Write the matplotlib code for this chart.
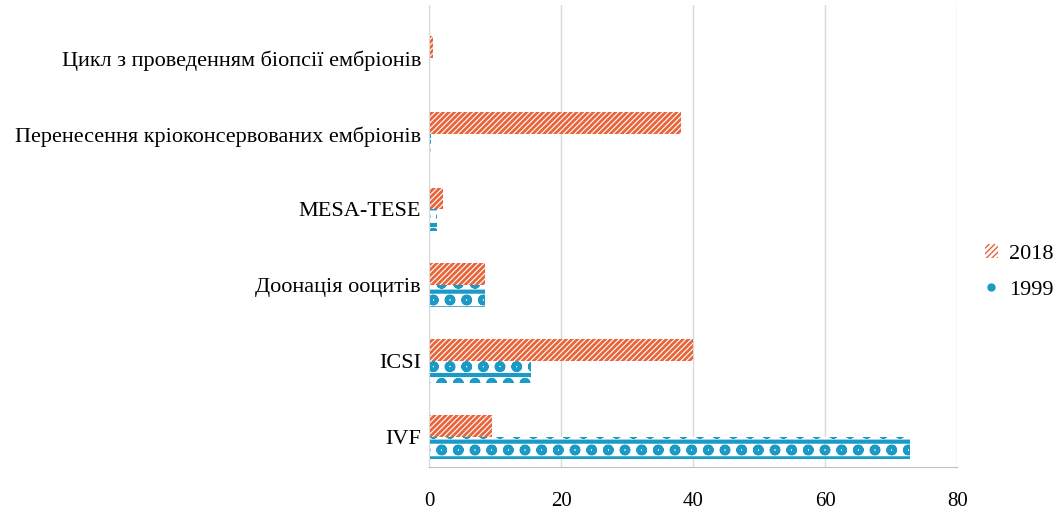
import matplotlib as mpl
import matplotlib.pyplot as plt
import matplotlib.patches as mpatches
from matplotlib.lines import Line2D
import numpy as np

plt.rcParams["font.family"] = ["Liberation Serif", "DejaVu Serif"]

# Categories, bottom to top as drawn
categories = [
    "IVF",
    "ICSI",
    "Доонація ооцитів",
    "MESA-TESE",
    "Перенесення кріоконсервованих ембріонів",
    "Цикл з проведенням біопсії ембріонів",
]
values_2018 = [9.5, 40.0, 8.5, 2.1, 38.2, 0.6]
values_1999 = [72.8, 15.4, 8.5, 1.2, 0.3, 0.0]

ORANGE = "#E8643A"
BLUE = "#1B9AC6"
HATCH_2018 = "//////"
HATCH_1999 = "-o"

fig = plt.figure(figsize=(10.6, 5.13), dpi=100)
ax = fig.add_axes([0.405, 0.09, 0.498, 0.90])

y = np.arange(len(categories))
h = 0.29
with mpl.rc_context({"hatch.linewidth": 2.0}):
    ax.barh(y + h / 2, values_2018, height=h, color="white", edgecolor=ORANGE,
            hatch=HATCH_2018, linewidth=0, label="2018")
    p18 = mpatches.Patch(facecolor="white", edgecolor=ORANGE, hatch=HATCH_2018,
                         linewidth=0, label="2018")
with mpl.rc_context({"hatch.linewidth": 3.0}):
    ax.barh(y - h / 2, values_1999, height=h, color="white", edgecolor=BLUE,
            hatch=HATCH_1999, linewidth=0, label="1999")
p99 = Line2D([], [], linestyle="none", marker="o", markersize=5,
             color=BLUE, label="1999")

ax.set_xlim(0, 80)
ax.set_ylim(-0.4, 5.7)
ax.set_xticks([0, 20, 40, 60, 80])
ax.set_yticks(y)
ax.set_yticklabels(categories, fontsize=16)
ax.tick_params(axis="y", length=0, pad=6)
ax.tick_params(axis="x", length=0, labelsize=15, pad=18)
ax.grid(axis="x", color="#d9d9d9", linewidth=1)
ax.set_axisbelow(True)
for side in ("top", "right"):
    ax.spines[side].set_visible(False)
ax.spines["left"].set_color("#d9d9d9")
ax.spines["bottom"].set_color("#bfbfbf")

fig.legend(handles=[p18, p99], loc="center left", bbox_to_anchor=(0.91, 0.47),
           frameon=False, fontsize=16, handlelength=0.6, handleheight=0.6,
           labelspacing=0.7, handletextpad=0.5)

fig.savefig("out.png", dpi=100)
